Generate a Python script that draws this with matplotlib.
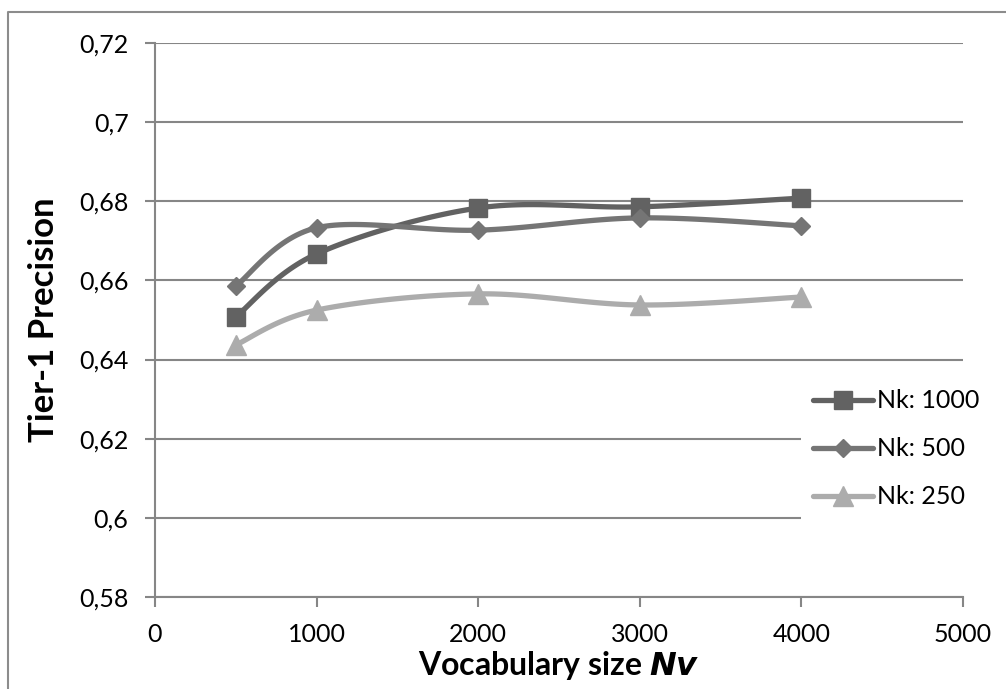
import numpy as np
import matplotlib.pyplot as plt
from matplotlib.ticker import FuncFormatter, MultipleLocator
from matplotlib.lines import Line2D

# data
vocab = [500, 1000, 2000, 3000, 4000]
nk1000 = [0.6508, 0.6667, 0.6783, 0.6786, 0.6808]
nk500 = [0.6586, 0.6733, 0.6727, 0.6758, 0.6738]
nk250 = [0.6437, 0.6525, 0.6566, 0.6538, 0.6558]
labels = ['Nk: 1000', 'Nk: 500', 'Nk: 250']

def smooth(x, y, n=30):
    '''Excel-style smoothed line: cubic bezier through the points'''
    x = np.asarray(x, float)
    y = np.asarray(y, float)
    P = np.column_stack([x, y])
    out = [P[0]]
    t = np.linspace(0, 1, n)[1:, None]
    for i in range(len(P) - 1):
        p0 = P[i - 1] if i > 0 else P[i]
        p3 = P[i + 2] if i + 2 < len(P) else P[i + 1]
        c1 = P[i] + (P[i + 1] - p0) / 6
        c2 = P[i + 1] - (p3 - P[i]) / 6
        seg = ((1 - t)**3 * P[i] + 3 * (1 - t)**2 * t * c1
               + 3 * (1 - t) * t**2 * c2 + t**3 * P[i + 1])
        out.extend(seg)
    out = np.array(out)
    return out[:, 0], out[:, 1]

plt.rcParams['font.family'] = ['Lato', 'DejaVu Sans']

fig = plt.figure(figsize=(10.06, 6.89), dpi=100)
ax = fig.add_axes([155/1006, 1 - 597/689, (963-155)/1006, (597-43)/689])

# outer frame of the chart (only left and top edges are in the picture)
fx, fy = 7.5/1006, 1 - 11.5/689
fig.lines.append(Line2D([fx, fx, 1.0], [0.0, fy, fy], transform=fig.transFigure,
                        color='#8c8c8c', lw=1.5))

series = [(nk1000, '#626262', 's', 13), (nk500, '#757575', 'D', 9.5),
          (nk250, '#acacac', '^', 14)]
handles = []
for (vals, col, mk, ms), lab in zip(series, labels):
    sx, sy = smooth(vocab, vals)
    ax.plot(sx, sy, color=col, lw=3.8, solid_capstyle='round', zorder=3)
    ax.plot(vocab, vals, linestyle='none', marker=mk, markersize=ms,
            color=col, zorder=4)
    h, = plt.plot([], [], color=col, lw=3.8, marker=mk, markersize=ms,
                  solid_capstyle='round')
    handles.append(h)

ax.set_xlim(0, 5000)
ax.set_ylim(0.58, 0.72)
ax.xaxis.set_major_locator(MultipleLocator(1000))
ax.yaxis.set_major_locator(MultipleLocator(0.02))
ax.yaxis.set_major_formatter(FuncFormatter(lambda v, p: f'{round(v, 2):g}'.replace('.', ',')))
ax.grid(axis='y', color='#868686', lw=1.5)
ax.set_axisbelow(True)
for s in ['top', 'right']:
    ax.spines[s].set_visible(False)
for s in ['left', 'bottom']:
    ax.spines[s].set_color('#868686')
    ax.spines[s].set_linewidth(1.5)
ax.tick_params(axis='both', colors='#868686', labelcolor='black',
               labelsize=18, length=7, width=1.5)
ax.tick_params(axis='x', pad=12)
ax.tick_params(axis='y', pad=12)

ax.set_xlabel('Vocabulary size $\\mathbfit{Nv}$', fontsize=23, fontweight='bold', labelpad=2)
ax.set_ylabel('Tier-1 Precision', fontsize=25, fontweight='bold', labelpad=14)

leg = ax.legend(handles, labels, loc='center left',
                bbox_to_anchor=(788/1006, 1 - 449/689), bbox_transform=fig.transFigure,
                frameon=True, fancybox=False, edgecolor='none', facecolor='white',
                framealpha=1, fontsize=18, handlelength=2.4, handletextpad=0.15,
                labelspacing=1.0, borderpad=0.5)

fig.savefig('out.png', dpi=100)
